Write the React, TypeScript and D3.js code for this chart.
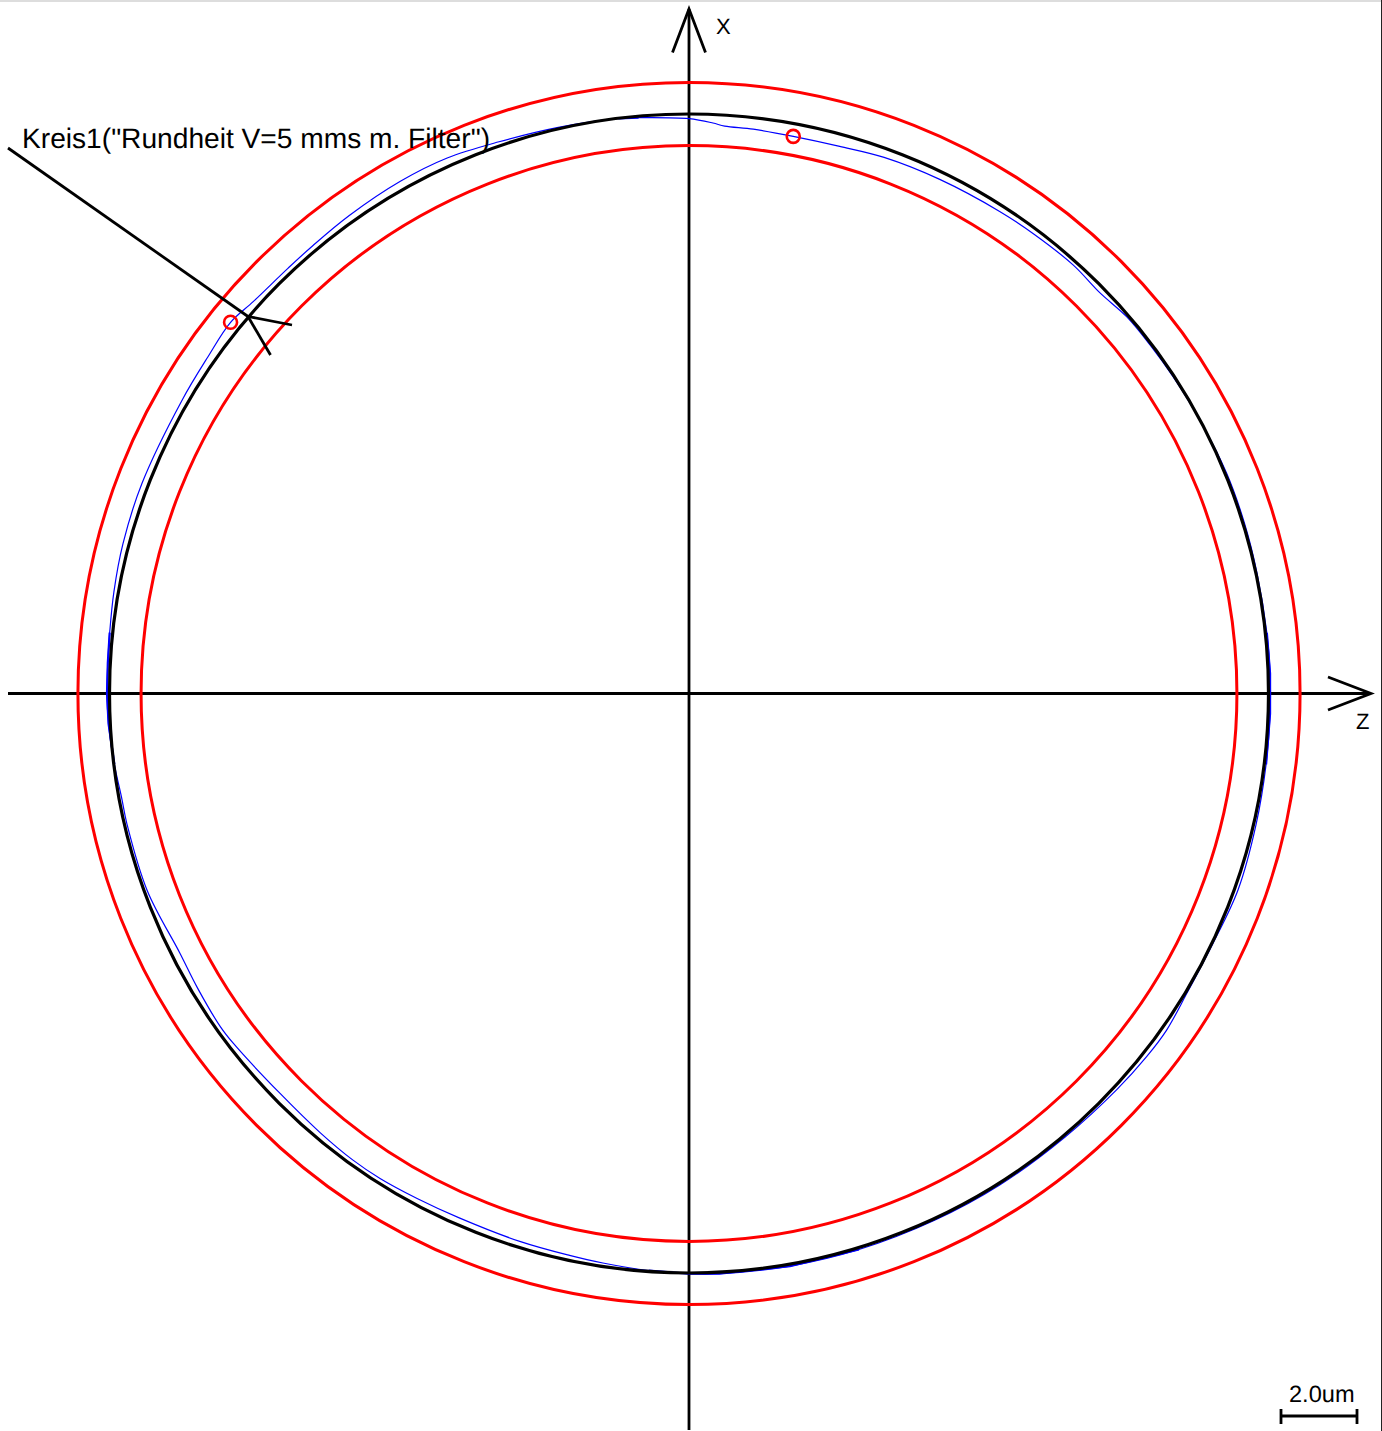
import React from 'react'
import * as d3 from 'd3'

// Roundness profile: angle clockwise from +X, deviation in um
const profileAngles = [
  0, 2.4, 3.6, 6.5, 10.6, 15.4, 20, 26, 32.8, 37, 41.9, 45.7, 49.3, 53, 56.8, 62, 67.7, 73, 78, 84,
  88, 92, 97, 103, 109.7, 115.5, 121, 125.2, 128.4, 132.8, 139.7, 147.7, 155, 163, 170, 177, 180,
  184, 188.6, 192, 197, 203.6, 208.3, 212.5, 215.8, 220, 225.6, 232.5, 234.6, 239, 243, 250, 257,
  259.6, 263, 267, 270, 273, 276, 280, 284.8, 291, 300, 305, 309, 312, 316.7, 320, 324.6, 330.6,
  335.7, 341, 347, 353, 355,
]
const profileDeviation = [
  -0.122, -0.221, -0.286, -0.299, -0.33, -0.312, -0.234, -0.195, -0.156, -0.13, -0.104, -0.145,
  -0.052, -0.039, -0.026, 0, 0.039, 0.039, 0.03, 0.04, 0.05, 0.05, 0.05, 0.065, 0.094, 0.026,
  0.042, 0.125, 0.122, 0.091, 0.052, 0.052, 0.045, 0.05, 0.05, 0.04, 0.02, -0.026, -0.091, -0.13,
  -0.156, -0.182, -0.156, -0.117, -0.117, -0.156, -0.195, -0.13, -0.117, -0.169, -0.208, -0.078,
  -0.065, -0.068, -0.013, 0.045, 0.065, 0.065, 0.078, 0.117, 0.156, 0.169, 0.16, 0.2, 0.27, 0.17,
  0.13, 0.14, 0.18, 0.22, 0.21, 0.104, 0.039, 0, -0.039,
]
// Sectors where the measured trace looks heavier (dense points)
const denseSectors = [
  [84, 97],
  [163, 184],
  [263, 276],
  [353, 360],
]
const toleranceUm = 0.82
const scaleBarUm = 2
const scaleBarLabel = '2.0um'
const annotationLabel = 'Kreis1("Rundheit V=5 mms m. Filter")'
const xLabel = 'X'
const zLabel = 'Z'

const WIDTH = 1382
const HEIGHT = 1431
const CX = 689
const CY = 693.5
const FONT = '"Liberation Sans", Arial, sans-serif'

const points = profileAngles.map((angle, i) => ({ angle, dev: profileDeviation[i] }))

export default function App() {
  const radius = d3.scaleLinear().domain([0, 1]).range([579.5, 618])
  const theta = d3.scaleLinear().domain([0, 360]).range([0, 2 * Math.PI])

  const trace = d3.lineRadial<{ angle: number; dev: number }>()
    .angle(d => theta(d.angle))
    .radius(d => radius(d.dev))

  const tracePath = trace.curve(d3.curveCatmullRomClosed.alpha(0.5))(points) as string
  const densePaths = denseSectors.map(([a, b]) => {
    const sub = points.filter(d => d.angle >= a && d.angle <= b)
    return trace.curve(d3.curveLinear)(sub) as string
  })

  const polar = (d: { angle: number; dev: number }) => {
    const t = theta(d.angle)
    const r = radius(d.dev)
    return [CX + r * Math.sin(t), CY - r * Math.cos(t)]
  }
  const [maxX, maxY] = polar(d3.greatest(points, d => d.dev)!)
  const [minX, minY] = polar(d3.least(points, d => d.dev)!)

  const barLeft = 1281
  const barRight = barLeft + (radius(scaleBarUm) - radius(0))

  const line = { stroke: '#000', strokeWidth: 2.8, fill: 'none' }

  return (
    <svg
      width={WIDTH}
      height={HEIGHT}
      style={{
        position: 'absolute',
        left: 0,
        top: 0,
        background: '#fff',
        fontFamily: FONT,
        textRendering: 'geometricPrecision',
      }}
    >
      {/* frame edges of the screenshot */}
      <line x1={0} y1={1} x2={WIDTH} y2={1} stroke="#ddd" strokeWidth={2} />
      <line x1={WIDTH - 0.5} y1={0} x2={WIDTH - 0.5} y2={HEIGHT} stroke="#222" />

      {/* axes */}
      <g {...line}>
        <line x1={CX} y1={1430} x2={CX} y2={9} />
        <polyline points={`672.5,52.5 ${CX},9 705.5,52.5`} />
        <line x1={8} y1={CY} x2={1371} y2={CY} />
        <polyline points={`1328,677 1371,${CY} 1328,710`} />
      </g>

      {/* measured trace */}
      <g transform={`translate(${CX},${CY})`} fill="none" stroke="#0000ff">
        <path d={tracePath} strokeWidth={1.2} />
        {densePaths.map((d, i) => (
          <path key={i} d={d} strokeWidth={2.2} />
        ))}
      </g>

      {/* nominal circle and tolerance band */}
      <circle cx={CX} cy={CY} r={radius(0)} fill="none" stroke="#000" strokeWidth={3.2} />
      {[-toleranceUm, toleranceUm].map(t => (
        <circle key={t} cx={CX} cy={CY} r={radius(t)} fill="none" stroke="#ff0000" strokeWidth={3} />
      ))}

      {/* max and min points */}
      <circle cx={maxX} cy={maxY} r={6.5} fill="none" stroke="#ff0000" strokeWidth={2.6} />
      <circle cx={minX} cy={minY} r={6.5} fill="none" stroke="#ff0000" strokeWidth={2.6} />

      {/* annotation leader */}
      <g {...line}>
        <line x1={8} y1={148} x2={248} y2={316.5} />
        <line x1={248} y1={316.5} x2={292} y2={325} />
        <line x1={248} y1={316.5} x2={270.5} y2={355} />
      </g>
      <text x={22} y={148} fontSize={28.15} fill="#000">{annotationLabel}</text>

      {/* axis labels */}
      <text x={716} y={33.5} fontSize={22} fill="#000">{xLabel}</text>
      <text x={1356} y={729} fontSize={22} fill="#000">{zLabel}</text>

      {/* scale bar */}
      <text x={1289} y={1402} fontSize={23.6} fill="#000">{scaleBarLabel}</text>
      <g {...line}>
        <line x1={barLeft} y1={1416} x2={barRight} y2={1416} />
        <line x1={barLeft} y1={1409} x2={barLeft} y2={1424} />
        <line x1={barRight - 1} y1={1409} x2={barRight - 1} y2={1424} />
      </g>
    </svg>
  )
}
